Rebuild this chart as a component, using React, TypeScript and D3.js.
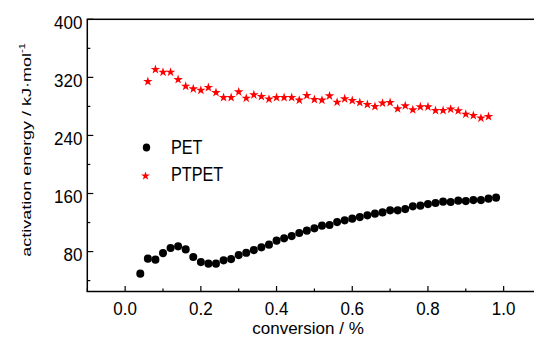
import React from "react";
import * as d3 from "d3";

// conversion (fraction) and activation energy (kJ/mol)
const petConversion = [
  0.04, 0.06, 0.08, 0.1, 0.12, 0.14, 0.16, 0.18, 0.2, 0.22, 0.24, 0.26, 0.28, 0.3, 0.32, 0.34,
  0.36, 0.38, 0.4, 0.42, 0.44, 0.46, 0.48, 0.5, 0.52, 0.54, 0.56, 0.58, 0.6, 0.62, 0.64, 0.66,
  0.68, 0.7, 0.72, 0.74, 0.76, 0.78, 0.8, 0.82, 0.84, 0.86, 0.88, 0.9, 0.92, 0.94, 0.96, 0.98,
];
const petEnergy = [
  49.5, 70.2, 68.8, 78.0, 84.9, 87.2, 83.0, 72.5, 65.6, 63.3, 63.3, 67.9, 69.7, 75.2, 78.4, 82.1,
  85.8, 89.5, 95.0, 98.2, 101.4, 105.6, 108.8, 112.0, 115.7, 116.6, 120.7, 123.0, 125.3, 127.6, 129.9, 132.2,
  134.0, 136.8, 136.8, 138.6, 142.3, 143.2, 145.5, 146.9, 148.7, 148.3, 150.1, 149.6, 151.0, 151.0, 152.9, 154.2,
];

const ptpetConversion = [
  0.06, 0.08, 0.1, 0.12, 0.14, 0.16, 0.18, 0.2, 0.22, 0.24, 0.26, 0.28, 0.3, 0.32, 0.34, 0.36,
  0.38, 0.4, 0.42, 0.44, 0.46, 0.48, 0.5, 0.52, 0.54, 0.56, 0.58, 0.6, 0.62, 0.64, 0.66, 0.68,
  0.7, 0.72, 0.74, 0.76, 0.78, 0.8, 0.82, 0.84, 0.86, 0.88, 0.9, 0.92, 0.94, 0.96,
];
const ptpetEnergy = [
  314.3, 330.8, 327.1, 327.1, 317.0, 307.8, 304.2, 302.3, 306.0, 299.1, 292.3, 292.3, 300.0, 291.3, 295.9, 293.6,
  290.0, 292.3, 292.3, 292.3, 288.6, 295.0, 289.5, 288.6, 294.5, 285.8, 290.4, 288.1, 285.4, 282.6, 279.9, 284.5,
  285.4, 276.7, 280.8, 275.3, 279.4, 279.4, 274.4, 274.4, 276.2, 273.9, 269.3, 267.5, 263.8, 266.1,
];

const xMajorTicks = [0, 0.2, 0.4, 0.6, 0.8, 1.0];
const xMinorTicks = [-0.1, 0.1, 0.3, 0.5, 0.7, 0.9];
const yMajorTicks = [80, 160, 240, 320, 400];
const yMinorTicks = [40, 120, 200, 280, 360];

const seriesNames = ["PET", "PTPET"];

const W = 534;
const H = 338;
const FONT = "'Liberation Sans', Arial, sans-serif";

export default function App() {
  const left = 87.3;
  const top = 19.3;
  const bottom = 291.5;
  const x = d3.scaleLinear().domain([-0.1, 1.1]).range([left, left + 1.2 * 378.5]);
  const y = d3.scaleLinear().domain([25, 400]).range([bottom, top]);
  const right = x(1.1);

  const star = d3.symbol().type(d3.symbolStar).size(28)() as string;
  const starLegend = d3.symbol().type(d3.symbolStar).size(24)() as string;

  return (
    <svg
      width={W}
      height={H}
      style={{ position: "absolute", left: 0, top: 0, background: "#fff" }}
      fontFamily={FONT}
    >
      <rect x={0} y={0} width={W} height={H} fill="#fff" />

      {/* ticks (inward) */}
      <g stroke="#000" strokeWidth={1.2}>
        {xMajorTicks.map((t) => (
          <line key={"xM" + t} x1={x(t)} x2={x(t)} y1={bottom} y2={bottom - 5.5} />
        ))}
        {xMinorTicks.map((t) => (
          <line key={"xm" + t} x1={x(t)} x2={x(t)} y1={bottom} y2={bottom - 3} />
        ))}
        {yMajorTicks.map((t) => (
          <line key={"yM" + t} x1={left} x2={left + 6} y1={y(t)} y2={y(t)} />
        ))}
        {yMinorTicks.map((t) => (
          <line key={"ym" + t} x1={left} x2={left + 3} y1={y(t)} y2={y(t)} />
        ))}
      </g>

      {/* frame */}
      <rect
        x={left}
        y={top}
        width={right - left}
        height={bottom - top}
        fill="none"
        stroke="#000"
        strokeWidth={1.5}
      />

      {/* tick labels */}
      <g fontSize={18.5} fill="#000">
        {xMajorTicks.map((t) => (
          <text
            key={"xl" + t}
            transform={`translate(${x(t)},${314.5}) scale(0.92,1)`}
            textAnchor="middle"
          >
            {d3.format(".1f")(t)}
          </text>
        ))}
        {yMajorTicks.map((t) => (
          <text
            key={"yl" + t}
            transform={`translate(${82.5},${y(t) + 9.2}) scale(0.92,1)`}
            textAnchor="end"
          >
            {t}
          </text>
        ))}
      </g>

      {/* axis titles */}
      <text x={308} y={334} textAnchor="middle" fontSize={17} fill="#000">
        conversion / %
      </text>
      <text
        transform={`translate(30.5,150) scale(0.75,1) rotate(-90)`}
        textAnchor="middle"
        fontSize={18}
        fill="#000"
      >
        activation energy / kJ·mol
        <tspan fontSize={11} dy={-8}>-1</tspan>
      </text>

      {/* PET */}
      <g fill="#000">
        {petConversion.map((c, i) => (
          <ellipse key={"p" + i} cx={x(c)} cy={y(petEnergy[i])} rx={4.0} ry={4.1} />
        ))}
      </g>

      {/* PTPET */}
      <g fill="#ff0000">
        {ptpetConversion.map((c, i) => (
          <path key={"s" + i} d={star} transform={`translate(${x(c)},${y(ptpetEnergy[i])})`} />
        ))}
      </g>

      {/* legend */}
      <ellipse cx={146.5} cy={147.5} rx={3.7} ry={3.9} fill="#000" />
      <text transform={`translate(171,154) scale(0.79,1)`} fontSize={20.5} fill="#000">
        {seriesNames[0]}
      </text>
      <path d={starLegend} transform="translate(145.5,176)" fill="#ff0000" />
      <text transform={`translate(171,181) scale(0.79,1)`} fontSize={20.5} fill="#000">
        {seriesNames[1]}
      </text>
    </svg>
  );
}
